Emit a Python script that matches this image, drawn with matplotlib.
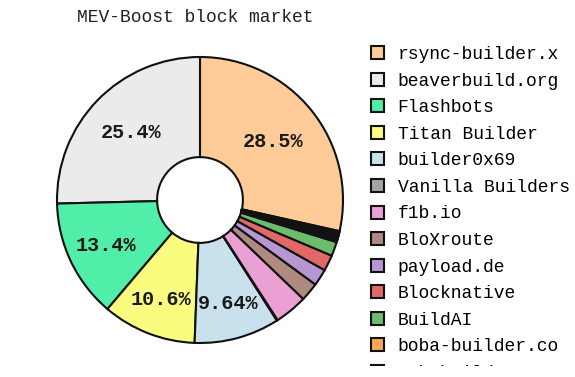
import numpy as np
import matplotlib
matplotlib.use("Agg")
from matplotlib import pyplot as plt
from matplotlib.transforms import Bbox, TransformedBbox

# builder shares (%)
builders = ["rsync-builder.x", "beaverbuild.org", "Flashbots", "Titan Builder",
            "builder0x69", "Vanilla Builders", "f1b.io", "BloXroute", "payload.de",
            "Blocknative", "BuildAI", "boba-builder.co", "eth-builder", "Manifold",
            "lightspeedbuilder", "nfactorial", "Eden Network", "bloXroute ethical",
            "Gambit Labs", "antbuilder", "jetbldr", "penguinbuild"]
shares = [28.5, 25.4, 13.4, 10.6, 9.64, 0.1, 3.7, 2.1, 1.9, 1.8, 1.6, 0.2,
          0.15, 0.12, 0.1, 0.1, 0.1, 0.1, 0.1, 0.1, 0.1, 0.09]
colors = ["#ffcc99", "#ebebeb", "#50eea8", "#f9fc7e", "#c8e1ec", "#a5a5a5",
          "#eba0d4", "#b08a82", "#b697d2", "#e26868", "#6bbc6b", "#ffa556",
          "#62a0ca", "#59d2de", "#d0d164", "#a5a5a5", "#eba0d4", "#b08a82",
          "#b697d2", "#e26868", "#6bbc6b", "#ffa556"]

plt.rcParams["font.family"] = ["Liberation Mono", "DejaVu Sans Mono"]

fig = plt.figure(figsize=(5.75, 3.77), dpi=100)
W, H = 575, 377
cx, cy, r = 200, 200, 143
ax = fig.add_axes([(cx - r) / W, (H - cy - r) / H, 2 * r / W, 2 * r / H])

total = sum(shares)
start = 90 - 360 * shares[0] / total

wedges, _ = ax.pie(shares, colors=colors, startangle=start, counterclock=True,
                   wedgeprops=dict(width=0.7, edgecolor="#111111", linewidth=1.5))
ax.set_xlim(-1, 1)
ax.set_ylim(-1, 1)
ax.set_aspect("equal")
for w in wedges:
    w.set_clip_on(False)

# percentage labels inside the big slices, pushed outward for narrower ones
for w, s in zip(wedges, shares):
    frac = s / total
    if frac < 0.05:
        continue
    ang = np.deg2rad((w.theta1 + w.theta2) / 2)
    d = 0.8 - 0.5 * frac
    ax.text(d * np.cos(ang), d * np.sin(ang), f"{100 * frac:.3g}%",
            ha="center", va="center", fontsize=14.5, fontweight="bold", color="#1a1a1a")

fig.text(195 / W, 1 - 18 / H, "MEV-Boost block market", ha="center", va="center",
         fontsize=13, color="#222222")

leg = fig.legend(wedges, builders, loc="upper left", bbox_to_anchor=(371 / W, 1 - 46 / H),
                 frameon=False, fontsize=13.0, handlelength=0.73, handleheight=0.73,
                 handletextpad=0.75, labelspacing=0.53, borderpad=0, borderaxespad=0)

# legend scroll area ends just above the bottom of the image
clip = TransformedBbox(Bbox([[0, 11 / H], [1, 1]]), fig.transFigure)
for a in list(leg.get_texts()) + list(leg.legend_handles):
    a.set_clip_box(clip)
    a.set_clip_on(True)

fig.savefig("out.png", dpi=100)
